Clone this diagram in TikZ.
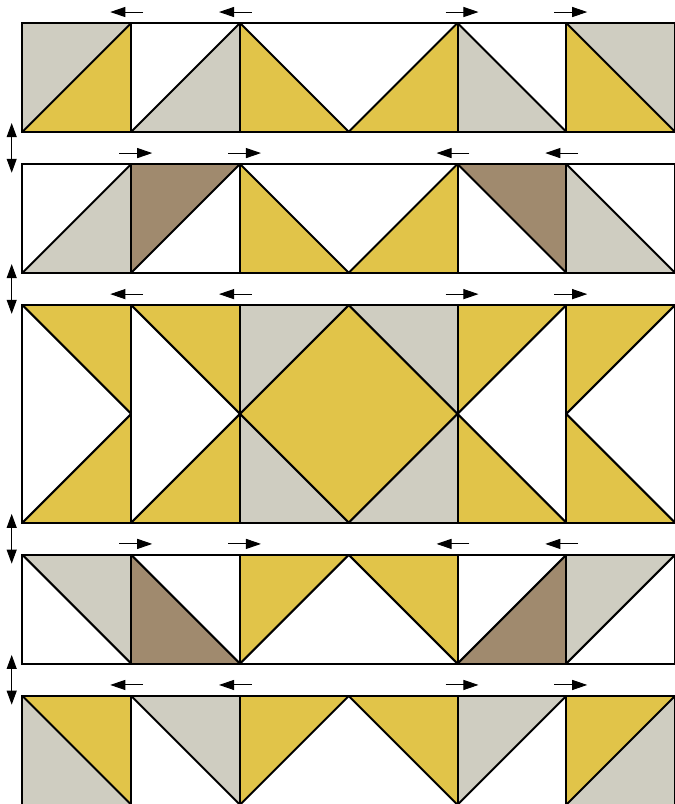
\documentclass[tikz,border=0pt]{standalone}
\usetikzlibrary{arrows.meta}
\definecolor{qgray}{HTML}{CFCDC1}
\definecolor{qyellow}{HTML}{E1C449}
\definecolor{qbrown}{HTML}{A08A6E}
\pgfdeclarelayer{back}
\pgfdeclarelayer{bg}
\pgfsetlayers{back,bg,main}
\tikzset{
  qline/.style={line width=2pt, line join=miter, black},
  harrow/.style={-{Triangle[length=15pt,width=10pt]}, line width=1pt, black},
  varrow/.style={{Triangle[length=14pt,width=10pt]}-{Triangle[length=14pt,width=10pt]}, line width=1pt, black}
}
% square with diagonal from bottom-left to top-right: #3 upper-left, #4 lower-right
\newcommand\qsqA[4]{%
  \begin{pgfonlayer}{bg}
    \fill[#3] (#1,#2) -- (#1+1,#2) -- (#1,#2+1) -- cycle;
    \fill[#4] (#1+1,#2) -- (#1+1,#2+1) -- (#1,#2+1) -- cycle;
  \end{pgfonlayer}
  \draw[qline] (#1,#2+1) -- (#1+1,#2);
}
% square with diagonal from top-left to bottom-right: #3 upper-right, #4 lower-left
\newcommand\qsqB[4]{%
  \begin{pgfonlayer}{bg}
    \fill[#3] (#1,#2) -- (#1+1,#2) -- (#1+1,#2+1) -- cycle;
    \fill[#4] (#1,#2) -- (#1+1,#2+1) -- (#1,#2+1) -- cycle;
  \end{pgfonlayer}
  \draw[qline] (#1,#2) -- (#1+1,#2+1);
}
\begin{document}
\begin{tikzpicture}[x=108.75pt, y=-108.75pt]
\begin{pgfonlayer}{back}
\fill[white] (-22.5pt,23pt) rectangle (652.5pt,-781pt);
\end{pgfonlayer}
\useasboundingbox (-22.5pt,23pt) rectangle (652.5pt,-781pt);

% Row 1
\qsqA{0}{0}{qgray}{qyellow}
\qsqA{1}{0}{white}{qgray}
\qsqB{2}{0}{white}{qyellow}
\qsqA{3}{0}{white}{qyellow}
\qsqB{4}{0}{white}{qgray}
\qsqB{5}{0}{qgray}{qyellow}
% Row 2
\qsqA{0}{1.297}{white}{qgray}
\qsqA{1}{1.297}{qbrown}{white}
\qsqB{2}{1.297}{white}{qyellow}
\qsqA{3}{1.297}{white}{qyellow}
\qsqB{4}{1.297}{qbrown}{white}
\qsqB{5}{1.297}{white}{qgray}
% Row 3 upper half
\qsqB{0}{2.594}{qyellow}{white}
\qsqB{1}{2.594}{qyellow}{white}
\qsqA{2}{2.594}{qgray}{qyellow}
\qsqB{3}{2.594}{qgray}{qyellow}
\qsqA{4}{2.594}{qyellow}{white}
\qsqA{5}{2.594}{qyellow}{white}
% Row 3 lower half
\qsqA{0}{3.594}{white}{qyellow}
\qsqA{1}{3.594}{white}{qyellow}
\qsqB{2}{3.594}{qyellow}{qgray}
\qsqA{3}{3.594}{qyellow}{qgray}
\qsqB{4}{3.594}{white}{qyellow}
\qsqB{5}{3.594}{white}{qyellow}
% Row 4
\qsqB{0}{4.891}{qgray}{white}
\qsqB{1}{4.891}{white}{qbrown}
\qsqA{2}{4.891}{qyellow}{white}
\qsqB{3}{4.891}{qyellow}{white}
\qsqA{4}{4.891}{white}{qbrown}
\qsqA{5}{4.891}{qgray}{white}
% Row 5
\qsqB{0}{6.188}{qyellow}{qgray}
\qsqB{1}{6.188}{qgray}{white}
\qsqA{2}{6.188}{qyellow}{white}
\qsqB{3}{6.188}{qyellow}{white}
\qsqA{4}{6.188}{qgray}{white}
\qsqA{5}{6.188}{qyellow}{qgray}

% Row outlines and seams
\foreach \t/\h in {0/1, 1.297/1, 2.594/2, 4.891/1, 6.188/1} {
  \draw[qline] (0,\t) rectangle (6,\t+\h);
  \foreach \c in {1,2,4,5} {
    \draw[qline] (\c,\t) -- (\c,\t+\h);
  }
}

% Pressing arrows above the rows
\foreach \t/\d [count=\i] in {0/-1, 1.297/1, 2.594/-1, 4.891/1, 6.188/-1} {
  \foreach \c in {1,2} {
    \coordinate (t\i l\c) at ({\c-(\d)*0.11},{\t-0.101});
    \coordinate (h\i l\c) at ({\c+(\d)*0.193},{\t-0.101});
    \draw[harrow] (t\i l\c) -- (h\i l\c);
  }
  \foreach \c in {4,5} {
    \coordinate (t\i r\c) at ({\c+(\d)*0.11},{\t-0.101});
    \coordinate (h\i r\c) at ({\c-(\d)*0.193},{\t-0.101});
    \draw[harrow] (t\i r\c) -- (h\i r\c);
  }
}

% Vertical double arrows between rows
\foreach \b/\n [count=\i] in {1/1.297, 2.297/2.594, 4.594/4.891, 5.891/6.188} {
  \coordinate (va\i) at (-0.0993,{\b-0.08});
  \coordinate (vb\i) at (-0.0993,{\n+0.08});
  \draw[varrow] (va\i) -- (vb\i);
}
\end{tikzpicture}
\end{document}
